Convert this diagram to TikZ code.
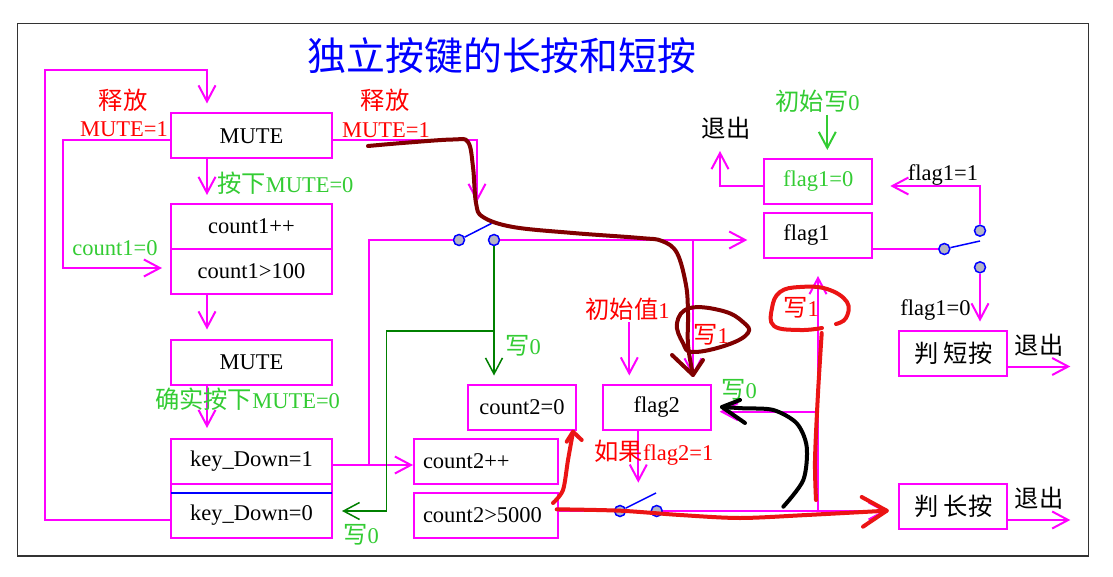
\documentclass[tikz,border=0pt]{standalone}
\usepackage{fontspec}
\setmainfont{Liberation Serif}
\newfontfamily\cjk[Scale=1.08]{Noto Sans CJK SC}
\usetikzlibrary{arrows.meta,positioning}
\definecolor{mag}{RGB}{255,0,255}
\definecolor{lgreen}{RGB}{51,204,51}
\definecolor{dgreen}{RGB}{0,128,0}
\definecolor{pen}{RGB}{128,0,0}
\definecolor{penred}{RGB}{235,20,20}
\definecolor{swfill}{RGB}{180,180,195}

\begin{document}
\begin{tikzpicture}[x=1pt, y=-1pt,
  font={\fontsize{22.5}{27}\selectfont},
  block/.style={draw=mag, line width=2pt, minimum width=161pt, minimum height=45pt, inner sep=0pt, outer sep=0pt},
  small/.style={block, minimum width=108pt},
  wide/.style={block, minimum width=144pt, text width=126pt, align=left, inner xsep=9pt},
  wire/.style={draw=mag, line width=2pt},
  arrow/.style={wire, -{Straight Barb[length=16pt,width=17pt]}},
  garrow/.style={draw=dgreen, line width=1.5pt, -{Straight Barb[length=16pt,width=17pt]}},
  contact/.style={circle, draw=blue, fill=swfill, line width=1.5pt, minimum size=11pt, inner sep=0pt},
  blade/.style={draw=blue, line width=1.5pt},
  hand/.style={line width=4pt, line cap=round, line join=round},
  node distance=0pt
]
\useasboundingbox (0,0) rectangle (1113,577);
\fill[white] (0,0) rectangle (1113,577);
\draw[line width=1.5pt, black!80] (17.5,23.5) rectangle (1088.5,556);
\node[text=blue, font={\cjk\fontsize{36}{40}\selectfont}] (title) at (502,56) {独立按键的长按和短按};

\node[block] (mute1) at (251.5,136) {MUTE};
\node[block] (cntinc) at (251.5,226.5) {count1++};
\node[block, below=of cntinc] (cntcmp) {count1>100};
\node[block] (mute2) at (251.5,362) {MUTE};
\node[block] (kdone) at (251.5,461.5) {key\_Down=1};
\node[block, below=9pt of kdone] (kdzero) {key\_Down=0};
\draw[wire] (kdone.south west) -- (kdzero.north west) (kdone.south east) -- (kdzero.north east);
\draw[blade] (kdzero.north west) -- (kdzero.north east);

\node[small] (cnttwoz) at (522,407) {count2=0};
\node[wide] (cnttwoinc) at (486,461.5) {count2++};
\node[wide, below=9pt of cnttwoinc] (cnttwocmp) {count2>5000};
\node[small] (flagtwo) at (656.7,407) {flag2};
\node[small, text=lgreen] (flagonez) at (818.3,181.5) {flag1=0};
\node[small, text width=70pt, align=left, inner xsep=19pt, below=9pt of flagonez] (flagone) {flag1};
\node[small] (shortkey) at (953.3,353) {\cjk 判 短按};
\node[small] (longkey) at (953.3,506.5) {\cjk 判 长按};

\node[contact] (sa) at (459,240) {};
\node[contact] (sb) at (494,240) {};
\node[contact] (sc) at (620,511) {};
\node[contact] (sd) at (656.7,511) {};
\node[contact] (se) at (944.3,249) {};
\node[contact] (sf) at (980,230.7) {};
\node[contact] (sg) at (980,267.3) {};
\coordinate (ta) at (491.7,223.3);
\coordinate (tc) at (656,493);
\coordinate (te) at (980,241);
\draw[blade] (sa) -- (ta);
\draw[blade] (sc) -- (tc);
\draw[blade] (se) -- (te);

\draw[arrow, shorten >=10pt] ([yshift=-4.5pt]kdzero.west) -| (45,70) -| ([xshift=-44.5pt]mute1.north);
\draw[arrow, shorten >=9pt] ([yshift=-4pt]mute1.west) -| (63,268) -- (cntcmp.west |- 0,268);
\draw[arrow, shorten >=9pt] ([xshift=-44.5pt]mute1.south) -- ([xshift=-44.5pt]cntinc.north);
\draw[arrow, shorten >=10pt] ([xshift=-44.5pt]cntcmp.south) -- ([xshift=-44.5pt]mute2.north);
\draw[arrow, shorten >=11pt] ([xshift=-44.5pt]mute2.south) -- ([xshift=-44.5pt]kdone.north);
\draw[arrow, shorten >=1pt] ([yshift=-3.5pt]kdone.east) -- ([yshift=-3.5pt]cnttwoinc.west);
\coordinate (ja) at (369,465);
\draw[wire] (ja) |- (sa);
\draw[arrow, shorten >=17pt] (sb) -- (sb -| flagone.west);
\draw[arrow] ([yshift=-4.5pt]mute1.east) -| (477,202);
\draw[garrow, shorten >=9pt] (sb) -- (sb |- cnttwoz.north);
\draw[garrow, shorten >=10pt] (494,331) -| (386.7,511) -- (kdzero.east |- 0,511);

\draw[arrow, shorten >=9pt] (629.3,322) -- (flagtwo.north -| 629.3,0);
\draw[arrow, shorten >=8pt] (693,240) -- (flagtwo.north -| 693,0);
\draw[arrow] (flagtwo.south -| 638.3,0) -- (638.3,482.7);
\draw[wire] (cnttwocmp.east |- sc) -- (sc);
\draw[arrow, shorten >=12.6pt] (sd) -- (sd -| longkey.west);
\draw[arrow, shorten >=18pt] (818,511) -- (flagone.south -| 818,0);
\draw[arrow, shorten >=9pt] (818,411.7) -- (flagtwo.east |- 0,411.7);
\draw[wire] (flagone.east |- se) -- (se);
\draw[arrow, shorten >=18pt] (sf) |- ([yshift=-4.5pt]flagonez.east);
\draw[arrow, shorten >=9pt] (sg) -- (sg |- shortkey.north);
\draw[arrow] ([yshift=-4.5pt]flagonez.west) -| (720,151);
\draw[arrow, draw=lgreen, shorten >=9pt] (827.3,115) -- (flagonez.north -| 827.3,0);
\draw[arrow] ([yshift=-13.5pt]shortkey.east) -- ++(63,0);
\draw[arrow] ([yshift=-13.5pt]longkey.east) -- ++(63,0);

\node[text=red] (relA) at (123,100) {\cjk 释放};
\node[text=red] (muteA) at (124,129) {MUTE=1};
\node[text=red] (relB) at (385,100) {\cjk 释放};
\node[text=red] (muteB) at (386,130) {MUTE=1};
\node[text=lgreen, anchor=west, inner sep=0pt] (press) at (217,183) {{\cjk 按下}MUTE=0};
\node[text=lgreen] (cntzero) at (115,248) {count1=0};
\node[text=lgreen] (confirm) at (247.5,399) {{\cjk 确实按下}MUTE=0};
\node[text=lgreen] (wzeroA) at (361,535) {{\cjk 写}0};
\node[text=lgreen] (wzeroB) at (523,346) {{\cjk 写}0};
\node[text=red] (initval) at (627.5,309) {{\cjk 初始值}1};
\node[text=red] (woneA) at (711,335) {{\cjk 写}1};
\node[text=lgreen] (wzeroC) at (739,390) {{\cjk 写}0};
\node[text=red] (ifflag) at (654,453) {{\cjk 如果}flag2=1};
\node[text=red] (woneB) at (801,308) {{\cjk 写}1};
\node (exitA) at (726,128) {\cjk 退出};
\node[text=lgreen] (initw) at (817.5,101) {{\cjk 初始写}0};
\node (fone) at (943,175) {flag1=1};
\node (fzero) at (935.5,310) {flag1=0};
\node (exitB) at (1039,345) {\cjk 退出};
\node (exitC) at (1039,498) {\cjk 退出};

\draw[hand, pen] plot[smooth, tension=0.6] coordinates {(368,146) (406,142.7) (453,139.5) (468,142) (473,167) (476,203) (483,217) (513,227) (573,233) (640,238) (662,241) (677,253) (686,285) (688,313) (688,345) (693,375)};
\draw[hand, pen] (672,355) -- (693,375) -- (703,360);
\draw[hand, pen] plot[smooth cycle, tension=0.7] coordinates {(690,308) (723,311) (743,322) (748,333) (727,345) (693,352) (683,343) (677,323)};
\draw[hand, penred] plot[smooth] coordinates {(556.7,509.3) (620,510.7) (680,515) (740,518) (806.7,515) (886.7,510.7)};
\draw[hand, penred] (861.7,497) -- (886.7,510.7) -- (863,526.7);
\draw[hand, penred] plot[smooth] coordinates {(553,503) (563,490) (568,460) (573,432)};
\draw[hand, penred] (566.7,441.7) -- (573,431.7) -- (581.7,440);
\draw[hand, penred] plot[smooth] coordinates {(816,500) (815,460) (818,393) (821.7,333)};
\draw[hand, penred] plot[smooth, tension=0.7] coordinates {(836,324) (846,318) (847,302) (827,289) (800,287) (780,292) (772,308) (774,326) (800,330) (822,328)};
\draw[hand, black] plot[smooth] coordinates {(783.3,506.7) (803.3,480) (806.7,446.7) (796.7,423.3) (773.3,410) (743.3,408.3) (722,407)};
\draw[hand, black] (740,400) -- (722,407) -- (745,423);
\end{tikzpicture}
\end{document}
